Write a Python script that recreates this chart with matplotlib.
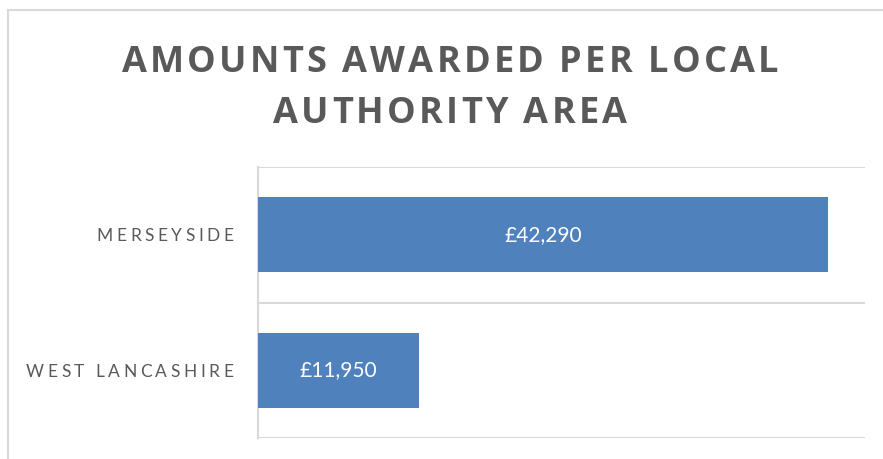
import matplotlib.pyplot as plt
from matplotlib.patches import Rectangle

categories = ["MERSEYSIDE", "WEST LANCASHIRE"]
amounts = [42290, 11950]
value_labels = ["£42,290", "£11,950"]
title_lines = ["AMOUNTS AWARDED PER LOCAL", "AUTHORITY AREA"]

W, H = 883, 459
bar_color = "#4F81BD"
text_gray = "#595959"
line_gray = "#D9D9D9"

fig = plt.figure(figsize=(W / 100, H / 100), dpi=100)
renderer = fig.canvas.get_renderer()


def char_width(ch, **kw):
    # advance width of one character, in pixels (space measured by difference)
    if ch == " ":
        a = fig.text(0, 0, "a a", **kw)
        b = fig.text(0, 0, "aa", **kw)
        w = a.get_window_extent(renderer).width - b.get_window_extent(renderer).width
        a.remove()
        b.remove()
        return w
    t = fig.text(0, 0, ch, **kw)
    w = t.get_window_extent(renderer).width
    t.remove()
    return w


def spaced_text(x, y, s, track, ha="center", **kw):
    # letter-spaced text; x, y in pixels from top-left, y = baseline
    widths = [char_width(ch, **kw) for ch in s]
    total = sum(widths) + track * (len(s) - 1)
    if ha == "center":
        x0 = x - total / 2
    elif ha == "right":
        x0 = x - total
    else:
        x0 = x
    for ch, w in zip(s, widths):
        if ch != " ":
            fig.text(x0 / W, (H - y) / H, ch, ha="left", va="baseline", **kw)
        x0 += w + track


# outer chart border (only top and left edges are visible in the crop)
fig.patches.append(Rectangle((8 / W, -0.1), 2.0, (H - 10) / H + 0.1,
                             transform=fig.transFigure, fill=False,
                             edgecolor=line_gray, linewidth=1.5))

ax = fig.add_axes([258 / W, (H - 438) / H, (865 - 258) / W, (438 - 167) / H])
y = list(range(len(categories)))
ax.barh(y, amounts, height=0.55, color=bar_color, zorder=3)
ax.set_xlim(0, 45000)
ax.set_ylim(len(categories) - 0.5, -0.5)

for b in [i - 0.5 for i in range(len(categories) + 1)]:
    ax.axhline(b, color=line_gray, linewidth=1.5, zorder=1)
for s in ["top", "right", "bottom"]:
    ax.spines[s].set_visible(False)
ax.spines["left"].set_color(line_gray)
ax.spines["left"].set_linewidth(1.5)
ax.set_xticks([])
ax.set_yticks([])
ax.patch.set_alpha(0)

for i, (v, lab) in enumerate(zip(amounts, value_labels)):
    ax.text(v / 2, i, lab, ha="center", va="center", color="white",
            fontsize=15, family=["Lato", "DejaVu Sans"], zorder=4)

# category labels with letter spacing
for i, cat in enumerate(categories):
    yc = H - ax.transData.transform((0, i))[1]
    spaced_text(233, yc + 6.5, cat, 3.5, ha="right", color=text_gray,
                fontsize=12.5, family=["Lato", "DejaVu Sans"])

# title
spaced_text(450, 72, title_lines[0], 3.2, color=text_gray, fontsize=26,
            fontweight="bold", family=["Open Sans", "DejaVu Sans"])
spaced_text(450, 123, title_lines[1], 3.2, color=text_gray, fontsize=26,
            fontweight="bold", family=["Open Sans", "DejaVu Sans"])

fig.savefig("out.png", dpi=100)
